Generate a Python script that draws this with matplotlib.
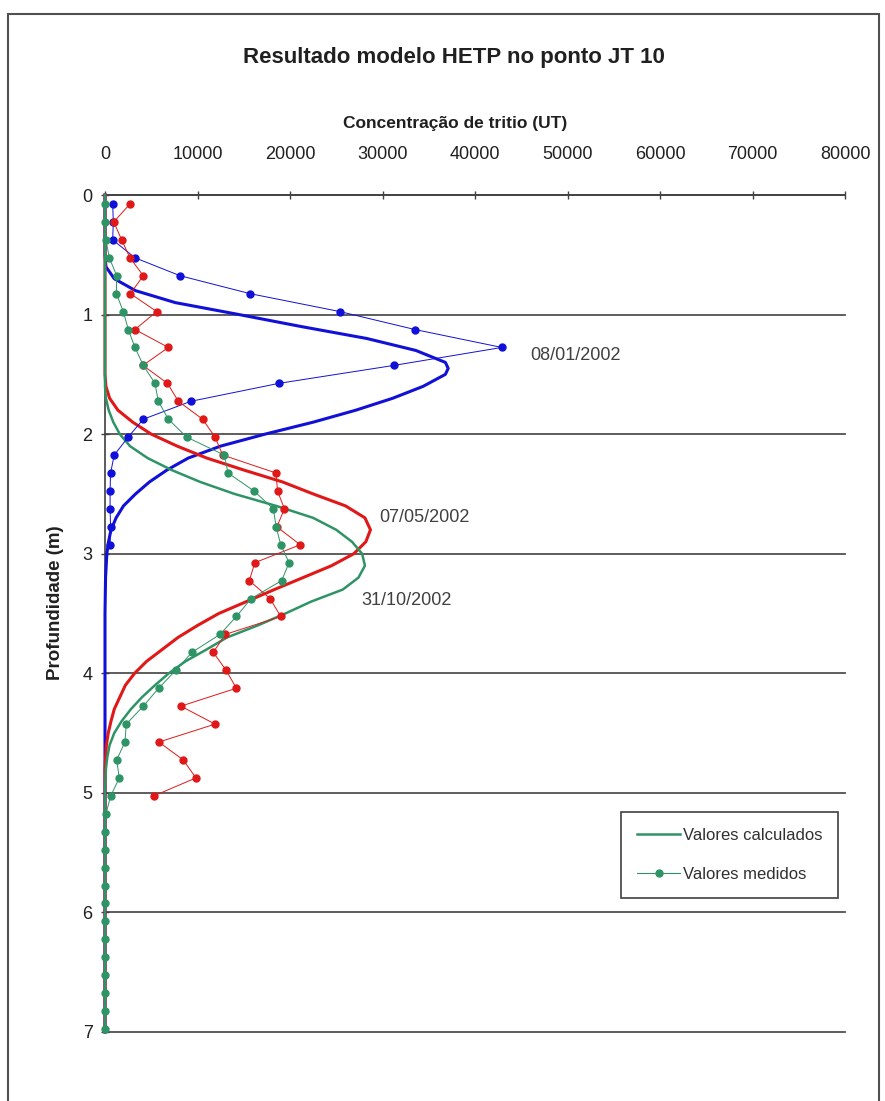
import matplotlib
matplotlib.use('Agg')
import matplotlib.pyplot as plt
from matplotlib.lines import Line2D
from matplotlib.patches import Rectangle

plt.rcParams['font.family'] = ['Liberation Sans', 'DejaVu Sans']

# Profundidades das amostras (m)
prof_medidas = [0.075, 0.225, 0.375, 0.525, 0.675, 0.825, 0.975, 1.125, 1.275, 1.425,
                1.575, 1.725, 1.875, 2.025, 2.175, 2.325, 2.475, 2.625, 2.775, 2.925,
                3.075, 3.225, 3.375, 3.525, 3.675, 3.825, 3.975, 4.125, 4.275, 4.425,
                4.575, 4.725, 4.875, 5.025, 5.175, 5.325, 5.475, 5.625, 5.775, 5.925,
                6.075, 6.225, 6.375, 6.525, 6.675, 6.825, 6.975]

# Valores medidos (UT)
med_jan = [830, 900, 830, 3240, 8110, 15680, 25400, 33500, 42900, 31240,
           18810, 9300, 4140, 2500, 1000, 600, 550, 550, 600, 550]
med_mai = [2700, 950, 1800, 2700, 4140, 2750, 5590, 3240, 6850, 4100,
           6750, 7930, 10550, 11900, 12720, 18500, 18650, 19400, 18580, 21100,
           16200, 15600, 17840, 19000, 13000, 11700, 13100, 14200, 8200, 11900,
           5830, 8460, 9830, 5290]
med_out = [0, 0, 100, 470, 1260, 1230, 1980, 2520, 3240, 4140,
           5400, 5760, 6850, 8830, 12900, 13300, 16100, 18200, 18500, 19000,
           19900, 19100, 15800, 14200, 12430, 9400, 7650, 5800, 4140, 2300,
           2160, 1260, 1550, 620, 100, 0, 0, 0, 0, 0,
           0, 0, 0, 0, 0, 0, 0]

# Valores calculados (modelo HETP)
prof_calc_jan = [0.0, 0.5, 0.6, 0.7, 0.8, 0.9, 1.0, 1.1, 1.2, 1.3, 1.4, 1.45, 1.5, 1.6,
                 1.7, 1.8, 1.9, 2.0, 2.1, 2.2, 2.3, 2.4, 2.5, 2.6, 2.7, 2.8, 2.9,
                 3.0, 3.2, 3.5, 7.0]
calc_jan = [0, 0, 100, 1000, 3300, 7600, 14500, 21200, 28300, 33600, 36800, 37100, 36800, 34400,
            31100, 27100, 22500, 17300, 12500, 9000, 6700, 4800, 3300, 2000, 1200, 650, 380,
            200, 60, 0, 0]

prof_calc_mai = [0.0, 1.5, 1.6, 1.7, 1.8, 1.9, 2.0, 2.1, 2.2, 2.3, 2.4, 2.5, 2.6, 2.7,
                 2.8, 2.9, 3.0, 3.1, 3.2, 3.3, 3.4, 3.5, 3.6, 3.7, 3.8, 3.9, 4.0,
                 4.1, 4.2, 4.3, 4.4, 4.5, 4.6, 4.8, 7.0]
calc_mai = [0, 0, 100, 500, 1400, 3000, 5000, 7800, 11000, 15000, 19200, 22500, 26000, 28100,
            28700, 28200, 26900, 24500, 21400, 18300, 15300, 12300, 10000, 7900, 6200, 4500, 3200,
            2200, 1600, 1000, 650, 350, 150, 0, 0]

prof_calc_out = [0.0, 1.6, 1.7, 1.8, 1.9, 2.0, 2.1, 2.2, 2.3, 2.4, 2.5, 2.6, 2.7, 2.8,
                 2.9, 3.0, 3.1, 3.2, 3.3, 3.4, 3.5, 3.6, 3.7, 3.8, 3.9, 4.0, 4.1,
                 4.2, 4.3, 4.4, 4.5, 4.6, 4.7, 4.8, 5.0, 7.0]
calc_out = [0, 0, 100, 400, 900, 1600, 2700, 4600, 7200, 10300, 14000, 18500, 22500, 25000,
            26700, 27800, 28100, 27400, 25700, 22300, 19500, 16500, 13200, 11000, 8700, 6900, 5400,
            4000, 2800, 1800, 1000, 500, 250, 100, 0, 0]

azul = '#1010d8'
vermelho = '#e01818'
verde = '#2e9466'

fig = plt.figure(figsize=(8.85, 11.01), dpi=100)
ax = fig.add_axes([105 / 885, 1 - 1032 / 1101, 740 / 885, 837 / 1101])

# curvas calculadas
ax.plot(calc_jan, prof_calc_jan, color=azul, lw=2.2, clip_on=False, zorder=3)
ax.plot(calc_mai, prof_calc_mai, color=vermelho, lw=2.2, clip_on=False, zorder=3)
ax.plot(calc_out, prof_calc_out, color=verde, lw=1.8, clip_on=False, zorder=3)

# valores medidos
ax.plot(med_jan, prof_medidas[:len(med_jan)], color=azul, lw=0.7, marker='o', ms=5, clip_on=False, zorder=4)
ax.plot(med_mai, prof_medidas[:len(med_mai)], color=vermelho, lw=0.7, marker='o', ms=5, clip_on=False, zorder=4)
ax.plot(med_out, prof_medidas[:len(med_out)], color=verde, lw=0.7, marker='o', ms=5, clip_on=False, zorder=4)

ax.set_xlim(0, 80000)
ax.set_ylim(7, 0)
ax.set_xticks(range(0, 80001, 10000))
ax.set_yticks(range(0, 8))
ax.xaxis.tick_top()
ax.xaxis.set_label_position('top')

for s in ['right', 'bottom']:
    ax.spines[s].set_visible(False)
for s in ['top', 'left']:
    ax.spines[s].set_color('#404040')
    ax.spines[s].set_linewidth(1.2)

ax.tick_params(axis='x', direction='inout', length=6, width=1, colors='#404040', pad=20, labelsize=13, labelcolor='#202020')
ax.tick_params(axis='y', direction='inout', length=6, width=1, colors='#404040', pad=6, labelsize=13, labelcolor='#202020')
ax.yaxis.grid(True, color='#505050', lw=1.3)
for g in ax.get_ygridlines():
    g.set_clip_on(False)
ax.set_axisbelow(True)

ax.set_xlabel('Concentração de tritio (UT)', fontsize=12.5, fontweight='bold', color='#202020')
ax.xaxis.set_label_coords(0.473, 1.0 + 67 / 837)
ax.set_ylabel('Profundidade (m)', fontsize=13.5, fontweight='bold', color='#202020')
ax.yaxis.set_label_coords(-41 / 740, 0.5125)

fig.text(454 / 885, 1 - 57 / 1101, 'Resultado modelo HETP no ponto JT 10', ha='center', va='center',
         fontsize=16, fontweight='bold', color='#202020')

ax.text(46000, 1.34, '08/01/2002', fontsize=13, color='#404040', va='center')
ax.text(29700, 2.70, '07/05/2002', fontsize=13, color='#404040', va='center')
ax.text(27700, 3.39, '31/10/2002', fontsize=13, color='#404040', va='center')

handles = [Line2D([], [], color=verde, lw=1.8),
           Line2D([], [], color=verde, lw=0.8, marker='o', ms=5)]
leg = ax.legend(handles, ['Valores calculados', 'Valores medidos'], loc='upper right',
                bbox_to_anchor=(733 / 740, 220 / 837), borderaxespad=0, fontsize=12,
                handlelength=2.6, handletextpad=0.15, labelspacing=1.45, borderpad=0.95,
                fancybox=False, framealpha=1)
leg.get_frame().set_edgecolor('#404040')
leg.get_frame().set_linewidth(1.2)
for t in leg.get_texts():
    t.set_color('#303030')

# moldura da área do gráfico
fig.patches.append(Rectangle((8 / 885, -0.05), 871 / 885, 1.05 - 14 / 1101, transform=fig.transFigure,
                             fill=False, edgecolor='#505050', lw=1.5))

fig.savefig('out.png', dpi=100)
